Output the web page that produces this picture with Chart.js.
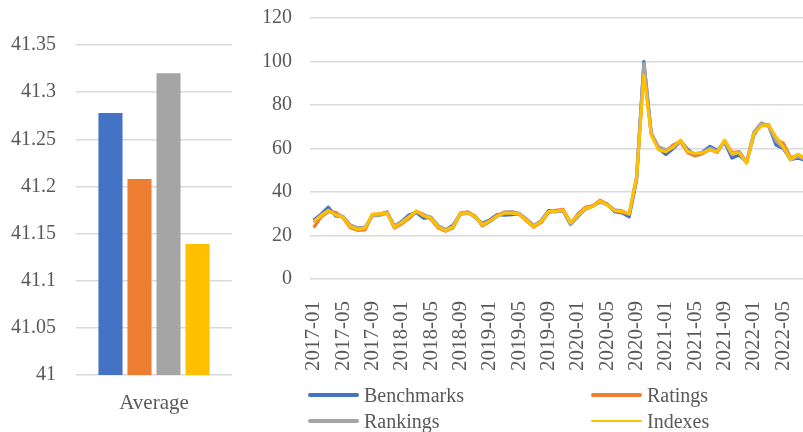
<!DOCTYPE html>
<html>
<head>
<meta charset="utf-8">
<script src="https://cdn.jsdelivr.net/npm/chart.js@4.4.1/dist/chart.umd.min.js"></script>
<style>
  body { margin: 0; width: 803px; height: 432px; overflow: hidden; background: #fff; position: relative; }
  .box { position: absolute; top: 0; }
  #legend { position: absolute; left: 0; top: 0; font-family: "Times New Roman", "Liberation Serif", serif; font-size: 20px; color: #595959; }
  .li { position: absolute; line-height: 20px; white-space: nowrap; }
  .ln { position: absolute; width: 51px; }
</style>
</head>
<body>
<div class="box" style="left:0;width:240px;height:432px"><canvas id="avg" width="240" height="432"></canvas></div>
<div class="box" style="left:240px;width:570px;height:432px"><canvas id="trend" width="570" height="432"></canvas></div>
<div id="legend"></div>
<script>
// series
const seriesNames = ['Benchmarks', 'Ratings', 'Rankings', 'Indexes'];
const seriesColors = ['#4472C4', '#ED7D31', '#A5A5A5', '#FFC000'];

// promedio de cada serie (panel izquierdo)
const avgCategory = ['Average'];
const avgValues = [41.278, 41.208, 41.320, 41.139];
const avgTicks = [41, 41.05, 41.1, 41.15, 41.2, 41.25, 41.3, 41.35];

// meses (panel derecho)
const months = [
  '2017-01','2017-02','2017-03','2017-04','2017-05','2017-06','2017-07','2017-08','2017-09','2017-10','2017-11','2017-12',
  '2018-01','2018-02','2018-03','2018-04','2018-05','2018-06','2018-07','2018-08','2018-09','2018-10','2018-11','2018-12',
  '2019-01','2019-02','2019-03','2019-04','2019-05','2019-06','2019-07','2019-08','2019-09','2019-10','2019-11','2019-12',
  '2020-01','2020-02','2020-03','2020-04','2020-05','2020-06','2020-07','2020-08','2020-09','2020-10','2020-11','2020-12',
  '2021-01','2021-02','2021-03','2021-04','2021-05','2021-06','2021-07','2021-08','2021-09','2021-10','2021-11','2021-12',
  '2022-01','2022-02','2022-03','2022-04','2022-05','2022-06','2022-07','2022-08'
];
const trendTicks = [0, 20, 40, 60, 80, 100, 120];

const benchmarks = [27.0, 29.8, 33.0, 29.0, 28.6, 24.6, 23.2, 23.0, 29.5, 29.6, 30.8, 24.2, 26.5, 29.5, 30.5, 28.0, 28.3, 24.2, 22.6, 24.8,
  30.0, 30.8, 28.4, 25.5, 27.2, 29.6, 29.4, 29.6, 30.0, 27.4, 24.4, 26.8, 31.4, 31.0, 31.4, 25.2, 29.8, 32.8, 33.5, 35.4,
  34.4, 31.0, 30.4, 28.6, 45.5, 100.0, 67.0, 60.0, 57.2, 60.0, 63.4, 59.5, 57.0, 58.4, 61.0, 59.2, 63.0, 55.6, 57.0, 53.6,
  66.4, 71.2, 70.5, 61.6, 60.0, 55.0, 55.6, 54.5];
const ratings = [23.6, 28.5, 31.0, 30.6, 28.2, 23.6, 22.4, 22.6, 29.6, 30.0, 30.6, 23.4, 25.4, 27.8, 31.0, 29.6, 27.4, 23.4, 22.0, 23.6,
  30.4, 30.8, 29.0, 24.4, 26.4, 29.4, 30.6, 30.6, 29.8, 26.8, 23.8, 26.0, 30.6, 31.6, 32.0, 26.0, 29.0, 32.8, 33.6, 36.2,
  34.4, 31.6, 30.6, 29.8, 46.0, 97.0, 66.6, 60.4, 58.8, 61.6, 63.2, 58.0, 56.6, 57.6, 59.6, 58.2, 63.6, 58.2, 58.4, 53.6,
  67.4, 70.6, 71.0, 64.2, 62.4, 55.6, 57.0, 55.4];
const rankings = [26.0, 29.4, 31.6, 29.6, 28.8, 24.8, 23.6, 23.8, 29.0, 29.2, 30.2, 24.6, 26.2, 28.8, 30.8, 29.4, 28.4, 24.4, 22.8, 24.0,
  29.8, 30.2, 28.8, 25.0, 26.4, 28.8, 30.8, 31.0, 30.2, 27.6, 24.6, 26.8, 30.8, 31.0, 31.2, 25.0, 28.6, 32.0, 33.4, 35.6,
  34.0, 31.8, 31.4, 29.8, 47.0, 99.0, 66.8, 60.8, 59.4, 60.4, 63.6, 58.8, 57.4, 58.2, 60.2, 58.6, 63.2, 57.2, 58.6, 53.6,
  67.6, 71.8, 70.2, 63.4, 60.4, 54.8, 56.4, 55.0];
const indexes = [26.4, 29.1, 31.5, 29.4, 28.4, 24.1, 22.8, 23.3, 29.9, 29.9, 30.5, 23.8, 25.9, 28.4, 31.4, 29.0, 27.8, 23.8, 22.2, 24.1,
  30.2, 30.5, 28.7, 24.8, 26.8, 29.0, 30.2, 30.2, 29.9, 27.0, 24.0, 26.4, 31.0, 31.2, 31.7, 25.9, 29.4, 32.5, 33.2, 35.9,
  34.0, 31.4, 31.0, 30.2, 46.3, 93.8, 66.2, 59.3, 58.5, 60.8, 63.9, 58.5, 57.8, 58.0, 59.3, 58.5, 63.9, 57.8, 58.0, 53.2,
  67.0, 70.3, 70.8, 65.4, 60.8, 55.0, 57.5, 55.0];
const trendSeries = [benchmarks, ratings, rankings, indexes];
const lineWidths = [3.25, 3.25, 3.25, 3];

const FONT = '"Times New Roman", "Liberation Serif", serif';
const TXT = '#595959';
const GRID = '#D9D9D9';

function noPad(s) { s.paddingLeft = 0; s.paddingRight = 0; s.paddingTop = 0; s.paddingBottom = 0; }

// Panel izquierdo: barras del promedio
new Chart(document.getElementById('avg'), {
  type: 'bar',
  data: {
    labels: avgCategory,
    datasets: seriesNames.map((n, i) => ({
      label: n, data: [avgValues[i]], backgroundColor: seriesColors[i],
      categoryPercentage: 0.744, barPercentage: 0.83
    }))
  },
  options: {
    responsive: false, animation: false,
    layout: { padding: { top: 45, right: 8, left: 0, bottom: 0 } },
    plugins: { legend: { display: false }, tooltip: { enabled: false } },
    scales: {
      x: {
        grid: { display: false }, border: { display: false },
        ticks: { color: TXT, font: { family: FONT, size: 21 }, padding: 8 },
        afterFit: (s) => { s.height = 57; noPad(s); }
      },
      y: {
        min: avgTicks[0], max: avgTicks[avgTicks.length - 1],
        afterBuildTicks: (s) => { s.ticks = avgTicks.map((v) => ({ value: v })); },
        grid: { color: GRID, lineWidth: 1.5, drawTicks: false }, border: { display: false },
        ticks: { color: TXT, font: { family: FONT, size: 20 }, padding: 20,
          callback: (v) => String(parseFloat(Number(v).toFixed(2))) },
        afterFit: (s) => { s.width = 76; noPad(s); }
      }
    }
  }
});

// Panel derecho: series mensuales (Indexes queda encima)
new Chart(document.getElementById('trend'), {
  type: 'line',
  data: {
    labels: months,
    datasets: seriesNames.map((n, i) => ({
      label: n, data: trendSeries[i], borderColor: seriesColors[i], backgroundColor: seriesColors[i],
      borderWidth: lineWidths[i], pointRadius: 0, tension: 0, borderJoinStyle: 'round',
      order: seriesNames.length - i
    }))
  },
  options: {
    responsive: false, animation: false,
    layout: { padding: { top: 18, right: 1, left: 0, bottom: 53 } },
    plugins: { legend: { display: false }, tooltip: { enabled: false } },
    scales: {
      x: {
        offset: true,
        grid: { display: false }, border: { display: false },
        ticks: { color: TXT, font: { family: FONT, size: 21 }, padding: 14, autoSkip: false,
          minRotation: 90, maxRotation: 90,
          callback: (v, idx) => (idx % 4 === 0 ? months[idx] : '') },
        afterFit: (s) => { s.height = 100; noPad(s); }
      },
      y: {
        min: 0, max: 120,
        afterBuildTicks: (s) => { s.ticks = trendTicks.map((v) => ({ value: v })); },
        grid: { color: GRID, lineWidth: 1.5, drawTicks: false }, border: { display: false },
        ticks: { color: TXT, font: { family: FONT, size: 20 }, padding: 18 },
        afterFit: (s) => { s.width = 70; noPad(s); }
      }
    }
  }
});

// Leyenda en dos columnas
const legendPos = [[308, 395], [591, 395], [308, 421], [591, 421]];
const lg = document.getElementById('legend');
seriesNames.forEach((n, i) => {
  const [x, y] = legendPos[i];
  const w = i === 3 ? 2.5 : 3.5;
  const ln = document.createElement('div');
  ln.className = 'ln';
  ln.style.cssText = `left:${x}px;top:${y - w / 2}px;height:${w}px;background:${seriesColors[i]};border-radius:2px`;
  lg.appendChild(ln);
  const t = document.createElement('div');
  t.className = 'li';
  t.style.left = (x + 56) + 'px';
  t.style.top = (y - 10) + 'px';
  t.textContent = n;
  lg.appendChild(t);
});
</script>
</body>
</html>
